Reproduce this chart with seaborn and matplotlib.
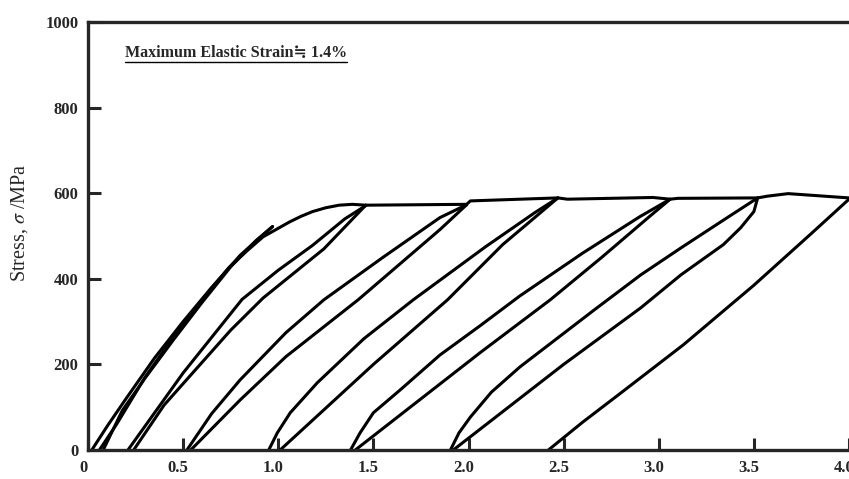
import pandas as pd
import matplotlib.pyplot as plt
import matplotlib.transforms as mtrans
import seaborn as sns
from matplotlib.lines import Line2D

# Digitised stress-strain branches (strain in %, stress in MPa)
load0_x = [0.02, 0.1, 0.2, 0.35, 0.5, 0.65, 0.8, 0.9, 0.97]
load0_y = [0, 55, 120, 215, 300, 380, 455, 495, 522]
unload0_x = [0.97, 0.88, 0.75, 0.6, 0.45, 0.3, 0.18, 0.08]
unload0_y = [522, 488, 428, 345, 258, 168, 92, 0]
envelope_x = [0.06, 0.15, 0.3, 0.45, 0.6, 0.74, 0.84, 0.92, 1.0, 1.06, 1.12, 1.18, 1.25, 1.32, 1.39, 1.46]
envelope_y = [0, 60, 170, 265, 350, 426, 467, 498, 518, 533, 546, 557, 566, 572, 574, 572]
plateau_x = [1.46, 1.99, 2.01, 2.47, 2.52, 2.97, 3.06, 3.1, 3.52, 3.57, 3.68, 4.0]
plateau_y = [572, 574, 582, 589, 586, 590, 586, 588, 589, 593, 599, 589]

reload1_x = [0.21, 0.5, 0.81, 1.0, 1.18, 1.35, 1.46]
reload1_y = [0, 180, 352, 420, 478, 540, 571]
unload1_x = [1.46, 1.24, 0.92, 0.75, 0.58, 0.4, 0.24]
unload1_y = [572, 470, 355, 280, 195, 105, 0]

reload2_x = [0.52, 0.65, 0.8, 1.04, 1.24, 1.55, 1.85, 1.99]
reload2_y = [0, 85, 164, 274, 351, 450, 543, 573]
unload2_x = [1.99, 1.85, 1.42, 1.04, 0.8, 0.54]
unload2_y = [573, 515, 351, 218, 117, 0]

reload3_x = [0.95, 0.995, 1.063, 1.205, 1.45, 1.71, 2.09, 2.35, 2.47]
reload3_y = [0, 40, 87, 157, 260, 351, 475, 555, 589]
unload3_x = [2.47, 2.3, 2.18, 1.89, 1.5, 1.01]
unload3_y = [589, 525, 480, 351, 200, 0]

reload4_x = [1.38, 1.43, 1.5, 1.64, 1.85, 2.06, 2.27, 2.6, 2.9, 3.06]
reload4_y = [0, 40, 87, 140, 222, 290, 360, 460, 545, 586]
unload4_x = [3.06, 2.95, 2.7, 2.43, 2.06, 1.405]
unload4_y = [586, 545, 450, 351, 227, 0]

reload5_x = [1.905, 1.95, 2.01, 2.12, 2.27, 2.66, 2.905, 3.116, 3.35, 3.52]
reload5_y = [0, 40, 77, 135, 194, 327, 409, 472, 540, 589]
unload5_x = [3.52, 3.5, 3.43, 3.34, 3.116, 2.905, 2.5, 1.92]
unload5_y = [589, 557, 519, 480, 409, 332, 200, 0]

unload6_x = [4.0, 3.8, 3.5, 3.13, 2.8, 2.6, 2.42]
unload6_y = [586, 505, 385, 246, 133, 65, 0]

branches = {
    'load0': (load0_x, load0_y), 'unload0': (unload0_x, unload0_y),
    'envelope': (envelope_x, envelope_y), 'plateau': (plateau_x, plateau_y),
    'reload1': (reload1_x, reload1_y), 'unload1': (unload1_x, unload1_y),
    'reload2': (reload2_x, reload2_y), 'unload2': (unload2_x, unload2_y),
    'reload3': (reload3_x, reload3_y), 'unload3': (unload3_x, unload3_y),
    'reload4': (reload4_x, reload4_y), 'unload4': (unload4_x, unload4_y),
    'reload5': (reload5_x, reload5_y), 'unload5': (unload5_x, unload5_y),
    'unload6': (unload6_x, unload6_y),
}

rows = []
for name, (xs, ys) in branches.items():
    for x, y in zip(xs, ys):
        rows.append({'branch': name, 'strain': x, 'stress': y})
df = pd.DataFrame(rows)

xticks = [0, 0.5, 1.0, 1.5, 2.0, 2.5, 3.0, 3.5, 4.0]
xlabels = ['0', '0.5', '1.0', '1.5', '2.0', '2.5', '3.0', '3.5', '4.0']
yticks = [0, 200, 400, 600, 800, 1000]

sns.set_style('ticks')
plt.rcParams['font.family'] = ['Liberation Serif', 'DejaVu Serif', 'Noto Sans CJK JP']
plt.rcParams['mathtext.fontset'] = 'stix'

fig = plt.figure(figsize=(8.49, 4.79), dpi=100)
ax = fig.add_axes([88 / 849, 29 / 479, 1 - 88 / 849, 428 / 479])

sns.lineplot(data=df, x='strain', y='stress', units='branch', estimator=None,
             sort=False, color='black', lw=2.2, ax=ax, legend=False)

ax.set_xlim(0, 4.0)
ax.set_ylim(0, 1000)
ax.set_xticks(xticks)
ax.set_xticklabels(xlabels)
ax.set_yticks(yticks)
ax.set_xlabel('')
ax.set_ylabel('')
ax.tick_params(direction='in', length=9, width=2.2, labelsize=12, pad=7)
# labels sit a little left of their ticks in the original
shift = mtrans.ScaledTranslation(-5 / 100, 0, fig.dpi_scale_trans)
for lab in ax.get_xticklabels():
    lab.set_fontweight('bold')
    lab.set_transform(lab.get_transform() + shift)
for lab in ax.get_yticklabels():
    lab.set_fontweight('bold')

ax.spines['right'].set_visible(False)
for s in ['left', 'bottom', 'top']:
    ax.spines[s].set_linewidth(2.4)

fig.text(20 / 849, 1 - 223 / 479, 'Stress, $\\sigma$ /MPa', rotation=90,
         ha='center', va='center', fontsize=14.5)

title = ax.text(0.049, 0.927, 'Maximum Elastic Strain≒ 1.4%', transform=ax.transAxes,
                fontsize=11.5, fontweight='bold', ha='left', va='center')

# underline under the annotation
fig.canvas.draw()
bb = title.get_window_extent().transformed(fig.transFigure.inverted())
fig.add_artist(Line2D([bb.x0, bb.x1], [bb.y0 - 0.002, bb.y0 - 0.002],
                      transform=fig.transFigure, color='black', lw=1.0))

fig.savefig('out.png', dpi=100)
